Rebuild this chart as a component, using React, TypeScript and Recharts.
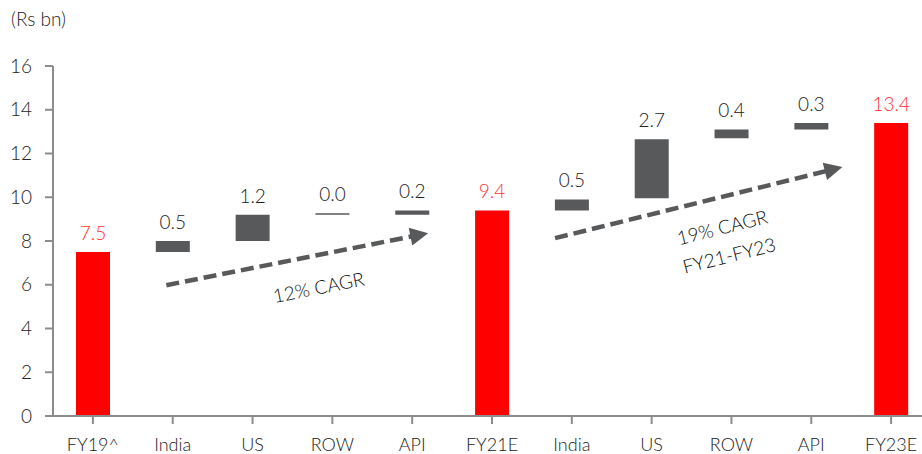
import {
  BarChart,
  Bar,
  Cell,
  XAxis,
  YAxis,
  LabelList,
  ReferenceLine,
  ReferenceDot,
} from 'recharts'

const categories = ['FY19^', 'India', 'US', 'ROW', 'API', 'FY21E', 'India', 'US', 'ROW', 'API', 'FY23E']
const bases = [0, 7.5, 8.0, 9.2, 9.2, 0, 9.4, 9.95, 12.7, 13.1, 0]
const deltas = [7.5, 0.5, 1.2, 0.07, 0.2, 9.4, 0.5, 2.7, 0.4, 0.3, 13.4]
const labels = ['7.5', '0.5', '1.2', '0.0', '0.2', '9.4', '0.5', '2.7', '0.4', '0.3', '13.4']
const totals = [true, false, false, false, false, true, false, false, false, false, true]
const yTicks = [0, 2, 4, 6, 8, 10, 12, 14, 16]

// arrows in (category index, value) coordinates
const arrows = [
  { from: { x: 0.92, y: 5.98 }, to: { x: 4.2, y: 8.36 } },
  { from: { x: 5.79, y: 8.13 }, to: { x: 9.39, y: 11.38 } },
]
const notes = [
  { x: 2.83, y: 5.84, lines: ['12% CAGR'], angle: -11.2 },
  { x: 7.93, y: 7.94, lines: ['19% CAGR', 'FY21-FY23'], angle: -14 },
]

const data = categories.map((name, i) => ({
  name,
  idx: i,
  base: bases[i],
  delta: deltas[i],
  label: labels[i],
}))

const RED = '#FF0000'
const GREY = '#58595B'
const AXIS = '#8C8C8C'
const FONT = 'Lato, "Open Sans", sans-serif'
const W = 300

function Arrow(props: any) {
  const { x1, y1, x2, y2 } = props
  const ang = Math.atan2(y2 - y1, x2 - x1)
  const head = 18
  const half = 9
  const bx = x2 - head * Math.cos(ang)
  const by = y2 - head * Math.sin(ang)
  const px = -Math.sin(ang)
  const py = Math.cos(ang)
  return (
    <g>
      <line x1={x1} y1={y1} x2={bx + 2 * Math.cos(ang)} y2={by + 2 * Math.sin(ang)} stroke={GREY} strokeWidth={4.5} strokeDasharray="13 6" />
      <polygon
        points={`${x2},${y2} ${bx + px * half},${by + py * half} ${bx - px * half},${by - py * half}`}
        fill={GREY}
      />
    </g>
  )
}

function Note(note: (typeof notes)[number]) {
  return (props: any) => {
    const { cx, cy } = props
    const n = note.lines.length
    return (
      <text
        transform={`translate(${cx},${cy}) rotate(${note.angle})`}
        textAnchor="middle"
        fontFamily={FONT}
        fontWeight={W}
        fontSize={19}
        fill="#111"
      >
        {note.lines.map((l, i) => (
          <tspan key={i} x={0} y={(i - (n - 1) / 2) * 29 + 6}>
            {l}
          </tspan>
        ))}
      </text>
    )
  }
}

function ValueLabel(props: any) {
  const { x, y, width, index } = props
  return (
    <text
      x={x + width / 2}
      y={y - 12}
      textAnchor="middle"
      fontFamily={FONT}
      fontWeight={W}
      fontSize={19}
      fill={totals[index] ? '#FF3333' : '#222'}
    >
      {labels[index]}
    </text>
  )
}

export default function App() {
  return (
    <div style={{ position: 'absolute', left: 0, top: 0, width: 922, height: 454, overflow: 'hidden', background: '#fff' }}>
      <div style={{ position: 'absolute', left: 11, top: 7, fontFamily: FONT, fontWeight: W, fontSize: 19, color: '#222' }}>
        (Rs bn)
      </div>
      <BarChart
        width={931}
        height={454}
        data={data}
        margin={{ top: 66, right: 0, bottom: 0, left: 0 }}
        barSize={34}
      >
        <XAxis
          dataKey="name"
          interval={0}
          tickSize={8}
          tickMargin={14}
          axisLine={{ stroke: AXIS, strokeWidth: 2 }}
          tickLine={{ stroke: AXIS, strokeWidth: 2 }}
          tick={{ fill: '#222', fontFamily: FONT, fontWeight: W, fontSize: 18 }}
          height={38}
        />
        <XAxis xAxisId="n" dataKey="idx" type="number" domain={[-0.5, 10.5]} hide allowDataOverflow />
        <YAxis
          domain={[0, 16]}
          ticks={yTicks}
          width={53}
          tickSize={8}
          tickMargin={13}
          axisLine={{ stroke: AXIS, strokeWidth: 2 }}
          tickLine={{ stroke: AXIS, strokeWidth: 2 }}
          tick={{ fill: '#222', fontFamily: FONT, fontWeight: W, fontSize: 19 }}
        />
        <Bar dataKey="base" stackId="w" fill="transparent" isAnimationActive={false} />
        <Bar dataKey="delta" stackId="w" isAnimationActive={false}>
          {data.map((d, i) => (
            <Cell key={i} fill={totals[i] ? RED : GREY} />
          ))}
          <LabelList dataKey="label" content={ValueLabel} />
        </Bar>
        {arrows.map((a, i) => (
          <ReferenceLine
            key={'a' + i}
            xAxisId="n"
            segment={[a.from, a.to]}
            shape={Arrow}
            ifOverflow="visible"
          />
        ))}
        {notes.map((n, i) => (
          <ReferenceDot
            key={'n' + i}
            xAxisId="n"
            x={n.x}
            y={n.y}
            r={0}
            shape={Note(n)}
            ifOverflow="visible"
          />
        ))}
      </BarChart>
    </div>
  )
}
